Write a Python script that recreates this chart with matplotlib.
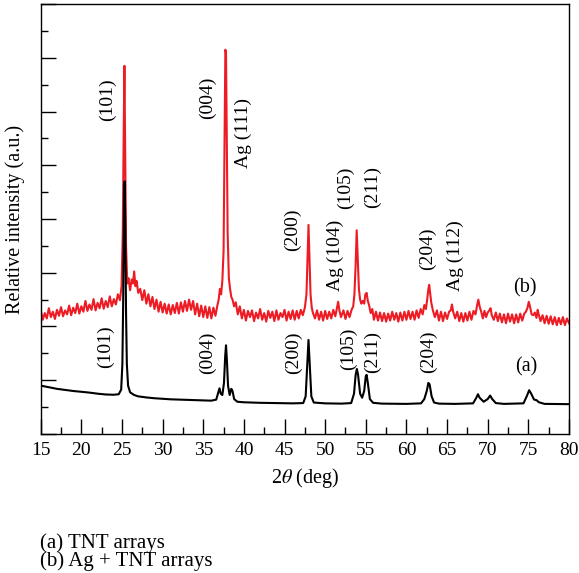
import numpy as np
import matplotlib as mpl
mpl.use('Agg')
import matplotlib.pyplot as plt
from matplotlib.ticker import MultipleLocator

plt.rcParams['font.family'] = ['Liberation Serif', 'DejaVu Serif']
plt.rcParams['mathtext.fontset'] = 'stix'

# (a) TNT arrays
tnt_2theta = [15, 16, 17, 18, 19, 20, 21, 22, 23, 24, 24.6, 24.9, 25.05, 25.15, 25.25, 25.32, 25.4, 25.5, 25.6,
              25.75, 26.0, 26.5, 27, 28, 29, 30, 31, 32, 33, 34, 35, 36, 36.6, 36.85, 37.0, 37.15, 37.35, 37.55,
              37.7, 37.8, 37.9, 38.05, 38.25, 38.45, 38.6, 38.8, 39.2, 40, 42, 44, 46, 47.3, 47.6, 47.8, 47.95,
              48.1, 48.3, 48.6, 50, 52, 53.2, 53.55, 53.75, 53.9, 54.05, 54.3, 54.55, 54.8, 55.0, 55.1, 55.25,
              55.5, 55.9, 57, 60, 61.8, 62.2, 62.5, 62.7, 62.85, 63.1, 63.4, 64, 66, 68.2, 68.6, 68.8, 69.0, 69.5,
              70.0, 70.3, 70.55, 71.0, 72, 74.4, 74.8, 75.1, 75.35, 75.7, 76.0, 76.3, 77, 80]
tnt_int = [1.80, 1.74, 1.68, 1.64, 1.60, 1.57, 1.54, 1.50, 1.47, 1.46, 1.48, 1.65, 2.6, 5.0, 8.5, 9.4, 8.0, 4.5, 2.6,
           1.8, 1.55, 1.45, 1.40, 1.36, 1.33, 1.31, 1.29, 1.28, 1.27, 1.26, 1.25, 1.24, 1.28, 1.55, 1.70, 1.50, 1.45,
           1.9, 2.9, 3.3, 2.8, 1.8, 1.45, 1.68, 1.6, 1.3, 1.2, 1.18, 1.16, 1.15, 1.14, 1.15, 1.4, 2.6, 3.5,
           2.6, 1.4, 1.17, 1.14, 1.13, 1.15, 1.5, 2.2, 2.42, 2.2, 1.5, 1.35, 1.6, 2.15, 2.2, 1.9,
           1.3, 1.16, 1.13, 1.12, 1.14, 1.3, 1.6, 1.9, 1.85, 1.4, 1.17, 1.13, 1.12, 1.14, 1.35, 1.48, 1.35, 1.2,
           1.3, 1.43, 1.3, 1.15, 1.12, 1.14, 1.4, 1.63, 1.5, 1.28, 1.26, 1.18, 1.12, 1.11]

# (b) Ag + TNT arrays
ag_2theta = [15.0, 15.25, 15.5, 15.75, 16.0, 16.25, 16.5, 16.75, 17.0, 17.25, 17.5, 17.75, 18.0, 18.25, 18.5, 18.75,
             19.0, 19.25, 19.5, 19.75, 20.0, 20.25, 20.5, 20.75, 21.0, 21.25, 21.5, 21.75, 22.0, 22.25, 22.5, 22.75,
             23.0, 23.25, 23.5, 23.75, 24.0, 24.25, 24.5, 24.75, 24.95, 25.1, 25.22, 25.3, 25.38, 25.5, 25.65, 25.8,
             26.0, 26.2, 26.35, 26.5, 26.65, 26.8, 27.0, 27.25, 27.5, 27.75, 28.0, 28.25, 28.5, 28.75, 29.0, 29.25,
             29.5, 29.75, 30.0, 30.25, 30.5, 30.75, 31.0, 31.25, 31.5, 31.75, 32.0, 32.25, 32.5, 32.75, 33.0, 33.25,
             33.5, 33.75, 34.0, 34.25, 34.5, 34.75, 35.0, 35.25, 35.5, 35.75, 36.0, 36.25, 36.5, 36.75, 36.9, 37.05,
             37.2, 37.35, 37.5, 37.62, 37.72, 37.8, 37.88, 38.0, 38.15, 38.3, 38.45, 38.6, 38.8, 39.0, 39.25, 39.5,
             39.75, 40.0, 40.25, 40.5, 40.75, 41.0, 41.25, 41.5, 41.75, 42.0, 42.25, 42.5, 42.75, 43.0, 43.25, 43.5,
             43.75, 44.0, 44.25, 44.5, 44.75, 45.0, 45.25, 45.5, 45.75, 46.0, 46.25, 46.5, 46.75, 47.0, 47.25, 47.5,
             47.7, 47.82, 47.95, 48.05, 48.2, 48.35, 48.5, 48.75, 49.0, 49.25, 49.5, 49.75, 50.0, 50.25, 50.5, 50.75,
             51.0, 51.25, 51.45, 51.6, 51.75, 51.95, 52.25, 52.5, 52.75, 53.0, 53.25, 53.45, 53.6, 53.75, 53.88, 54.0,
             54.15, 54.3, 54.45, 54.6, 54.8, 54.95, 55.1, 55.25, 55.4, 55.6, 55.8, 56.0, 56.25, 56.5, 56.75, 57.0,
             57.25, 57.5, 57.75, 58.0, 58.25, 58.5, 58.75, 59.0, 59.25, 59.5, 59.75, 60.0, 60.25, 60.5, 60.75, 61.0,
             61.25, 61.5, 61.75, 62.0, 62.2, 62.4, 62.55, 62.7, 62.8, 62.9, 63.05, 63.25, 63.5, 63.75, 64.0, 64.25,
             64.5, 64.75, 65.0, 65.25, 65.45, 65.6, 65.75, 66.0, 66.25, 66.5, 66.75, 67.0, 67.25, 67.5, 67.75, 68.0,
             68.25, 68.5, 68.7, 68.85, 69.0, 69.2, 69.4, 69.6, 69.8, 70.0, 70.2, 70.35, 70.5, 70.75, 71.0, 71.25,
             71.5, 71.75, 72.0, 72.25, 72.5, 72.75, 73.0, 73.25, 73.5, 73.75, 74.0, 74.25, 74.5, 74.7, 74.9, 75.05,
             75.2, 75.4, 75.6, 75.8, 76.0, 76.15, 76.3, 76.5, 76.75, 77.0, 77.25, 77.5, 77.75, 78.0, 78.25, 78.5,
             78.75, 79.0, 79.25, 79.5, 79.75, 80.0]
ag_int = [4.60, 4.25, 4.50, 4.30, 4.68, 4.35, 4.55, 4.28, 4.62, 4.40, 4.72, 4.38, 4.60, 4.45, 4.78, 4.42,
          4.70, 4.50, 4.85, 4.48, 4.75, 4.55, 4.95, 4.58, 4.82, 4.62, 5.02, 4.60, 4.88, 4.68, 5.05, 4.66,
          4.95, 4.72, 5.12, 4.75, 5.02, 4.82, 5.20, 4.98, 5.5, 7.5, 11.5, 13.7, 11.0, 7.0, 5.6, 5.8,
          5.35, 5.75, 5.6, 6.05, 5.5, 5.7, 5.25, 5.40, 4.98, 5.35, 4.85, 5.20, 4.75, 5.10, 4.65, 5.00,
          4.55, 4.92, 4.52, 4.85, 4.48, 4.82, 4.45, 4.80, 4.50, 4.88, 4.48, 4.90, 4.55, 4.95, 4.58, 5.00,
          4.62, 4.95, 4.45, 4.85, 4.38, 4.78, 4.35, 4.75, 4.32, 4.72, 4.30, 4.70, 4.40, 4.80, 5.0, 5.4,
          5.2, 5.7, 6.8, 11.0, 14.3, 14.2, 11.5, 7.5, 5.8, 5.4, 5.1, 5.0, 4.75, 4.90, 4.45, 4.75,
          4.30, 4.62, 4.22, 4.58, 4.35, 4.60, 4.20, 4.52, 4.30, 4.65, 4.25, 4.50, 4.18, 4.58, 4.32, 4.55,
          4.20, 4.60, 4.25, 4.50, 4.35, 4.62, 4.22, 4.55, 4.28, 4.60, 4.25, 4.58, 4.30, 4.62, 4.42, 4.7,
          5.2, 6.5, 7.78, 6.8, 5.2, 4.7, 4.5, 4.30, 4.60, 4.25, 4.55, 4.22, 4.58, 4.28, 4.55, 4.30,
          4.62, 4.38, 4.7, 4.92, 4.6, 4.35, 4.60, 4.28, 4.58, 4.35, 4.62, 4.75, 5.2, 6.3, 7.58, 6.6,
          5.4, 5.0, 4.85, 4.95, 4.85, 5.2, 5.25, 4.95, 4.8, 4.5, 4.65, 4.25, 4.55, 4.22, 4.52, 4.20,
          4.50, 4.18, 4.48, 4.22, 4.55, 4.25, 4.50, 4.18, 4.52, 4.22, 4.55, 4.25, 4.58, 4.28, 4.55, 4.25,
          4.60, 4.32, 4.65, 4.45, 4.80, 4.65, 5.0, 5.4, 5.55, 5.3, 4.9, 4.6, 4.35, 4.60, 4.22, 4.55,
          4.20, 4.52, 4.28, 4.55, 4.6, 4.82, 4.55, 4.30, 4.55, 4.20, 4.50, 4.18, 4.50, 4.22, 4.55, 4.25,
          4.58, 4.45, 4.8, 5.0, 4.75, 4.55, 4.30, 4.58, 4.35, 4.52, 4.6, 4.68, 4.42, 4.25, 4.52, 4.20,
          4.48, 4.15, 4.45, 4.12, 4.48, 4.18, 4.45, 4.12, 4.45, 4.15, 4.48, 4.22, 4.48, 4.55, 4.7, 4.92,
          4.75, 4.45, 4.42, 4.52, 4.32, 4.62, 4.42, 4.20, 4.42, 4.12, 4.40, 4.10, 4.38, 4.08, 4.35, 4.05,
          4.32, 4.08, 4.35, 4.05, 4.30, 4.12]

# peak labels: text, 2theta, height
ag_labels = ['(101)', '(004)', 'Ag (111)', '(200)', 'Ag (104)', '(105)', '(211)', '(204)', 'Ag (112)']
ag_lab_x = [23.16, 35.46, 39.89, 45.92, 51.21, 52.44, 55.88, 62.53, 65.97]
ag_lab_y = [12.43, 12.5, 11.2, 7.6, 6.65, 9.15, 9.2, 6.9, 6.62]
tnt_labels = ['(101)', '(004)', '(200)', '(105)', '(211)', '(204)']
tnt_lab_x = [23.03, 35.58, 46.04, 52.81, 55.88, 62.66]
tnt_lab_y = [3.24, 3.01, 3.01, 3.16, 3.05, 3.05]

red = '#ED1C24'

fig = plt.figure(figsize=(5.79, 5.73), dpi=100)
ax = fig.add_axes([0.0703, 0.2426, 0.9124, 0.7504])

ax.plot(ag_2theta, ag_int, color=red, lw=1.5)
ax.plot(tnt_2theta, tnt_int, color='black', lw=1.5)

for t, x, y in zip(ag_labels, ag_lab_x, ag_lab_y):
    ax.text(x, y, t, rotation=90, ha='center', va='center', fontsize=14)
for t, x, y in zip(tnt_labels, tnt_lab_x, tnt_lab_y):
    ax.text(x, y, t, rotation=90, ha='center', va='center', fontsize=14)
ax.text(74.6, 5.43, '(b)', ha='center', va='center', fontsize=14.5)
ax.text(74.8, 2.49, '(a)', ha='center', va='center', fontsize=14.5)

ax.set_xlim(15, 80)
ax.set_ylim(0, 16)
ax.xaxis.set_major_locator(MultipleLocator(5))
ax.xaxis.set_minor_locator(MultipleLocator(2.5))
ax.yaxis.set_major_locator(MultipleLocator(2))
ax.yaxis.set_minor_locator(MultipleLocator(1))
ax.tick_params(which='both', direction='in', top=False, right=False, width=1)
ax.tick_params(which='major', length=11)
ax.tick_params(which='minor', length=5)
ax.tick_params(axis='x', labelsize=14, pad=6)
ax.tick_params(axis='y', labelleft=False)
for s in ax.spines.values():
    s.set_linewidth(1.0)

ax.set_xlabel('2$\\theta$ (deg)', fontsize=14.5, labelpad=5)
ax.set_ylabel('Relative intensity (a.u.)', fontsize=14.5, labelpad=8)

fig.text(0.069, 1 - 543 / 573, '(a) TNT arrays', ha='left', va='center', fontsize=15)
fig.text(0.069, 1 - 561 / 573, '(b) Ag + TNT arrays', ha='left', va='center', fontsize=15)

plt.savefig('out.png', dpi=100)
